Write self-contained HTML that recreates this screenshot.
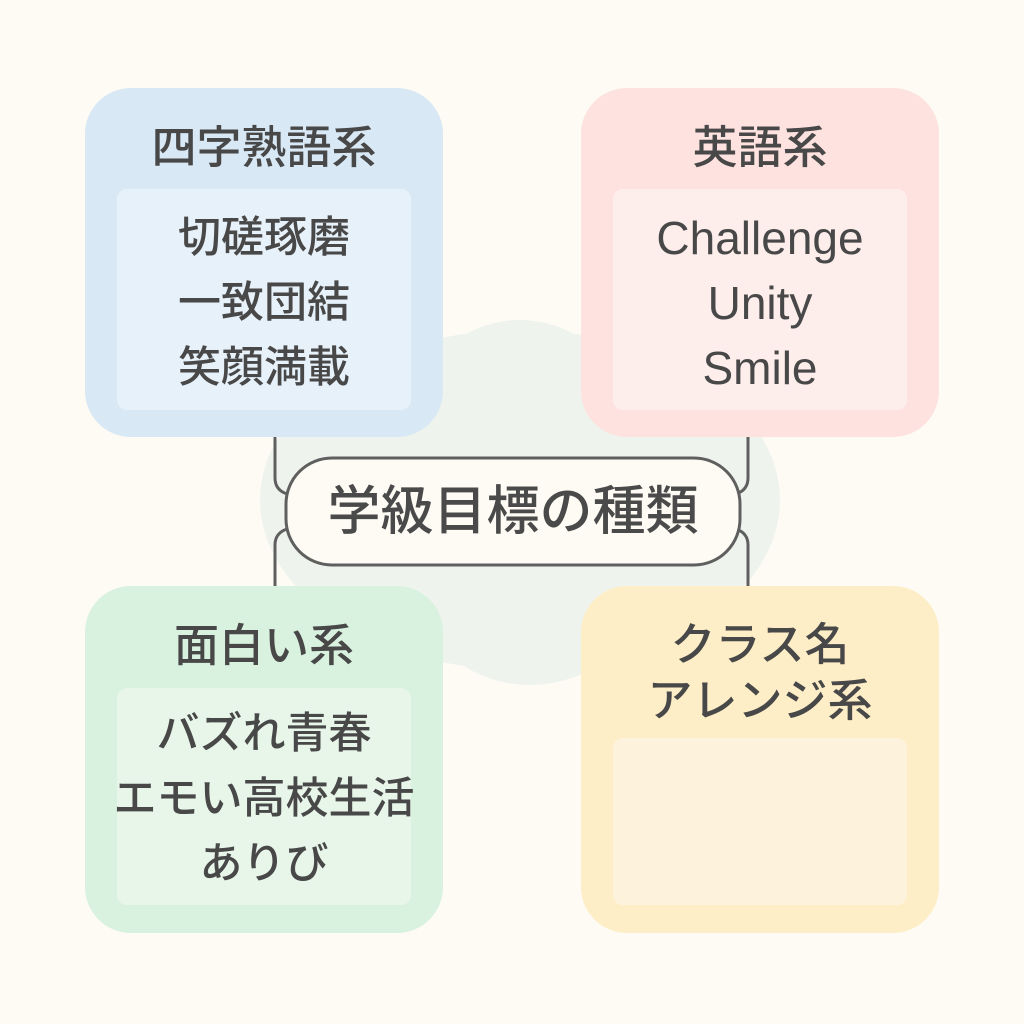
<!DOCTYPE html>
<html><head><meta charset="utf-8"><style>
body{margin:0;width:1024px;height:1024px;background:#fdfbf3;position:relative;overflow:hidden;font-family:"Liberation Sans","Noto Sans CJK JP",sans-serif;color:#484848}
.box{position:absolute;width:358px;border-radius:46px}
.in{position:absolute;left:32px;width:294px;border-radius:10px}
.t{position:absolute;left:0;width:100%;text-align:center;font-size:45px;font-weight:500;line-height:56px}
.it{position:absolute;left:0;width:100%;text-align:center;font-size:43px;font-weight:500;line-height:65px}
</style></head><body>
<svg width="1024" height="1024" style="position:absolute;left:0;top:0">
<ellipse cx="520" cy="500" rx="260" ry="170" fill="#eff3ee"/>
<ellipse cx="520" cy="430" rx="110" ry="110" fill="#eff3ee"/>
<ellipse cx="530" cy="590" rx="110" ry="95" fill="#eff3ee"/>
<g fill="none" stroke="#5f5f5f" stroke-width="3">
<path d="M275 437 V478 Q275 490 287 494"/>
<path d="M275 586 V545 Q275 533 287 529"/>
<path d="M748 437 V478 Q748 490 736 494"/>
<path d="M748 586 V545 Q748 533 736 529"/>
<rect x="286" y="458" width="454" height="107" rx="46" fill="#fdfbf3"/>
</g>
</svg>
<div style="position:absolute;left:286px;top:458px;width:454px;height:107px;line-height:107px;text-align:center;font-size:53px;font-weight:500;color:#4a4a4a">学級目標の種類</div>

<div class="box" style="left:85px;top:88px;height:349px;background:#d8e8f5">
<div class="t" style="top:32px">四字熟語系</div>
<div class="in" style="top:101px;height:221px;background:#e7f1f9"></div>
<div class="it" style="top:118px">切磋琢磨<br>一致団結<br>笑顔満載</div>
</div>
<div class="box" style="left:581px;top:88px;height:349px;background:#fde2e0">
<div class="t" style="top:32px">英語系</div>
<div class="in" style="top:101px;height:221px;background:#fdeeec"></div>
<div class="it" style="top:118px;font-size:46px;font-weight:normal">Challenge<br>Unity<br>Smile</div>
</div>
<div class="box" style="left:581px;top:586px;height:347px;background:#fdeec8">
<div class="t" style="top:31px">クラス名<br>アレンジ系</div>
<div class="in" style="top:152px;height:167px;background:#fdf3dc"></div>
</div>
<div class="box" style="left:85px;top:586px;height:347px;background:#d9f1df">
<div class="t" style="top:32px">面白い系</div>
<div class="in" style="top:102px;height:217px;background:#e8f6ea"></div>
<div class="it" style="top:116px">バズれ青春<br>エモい高校生活<br>ありび</div>
</div>
</body></html>
